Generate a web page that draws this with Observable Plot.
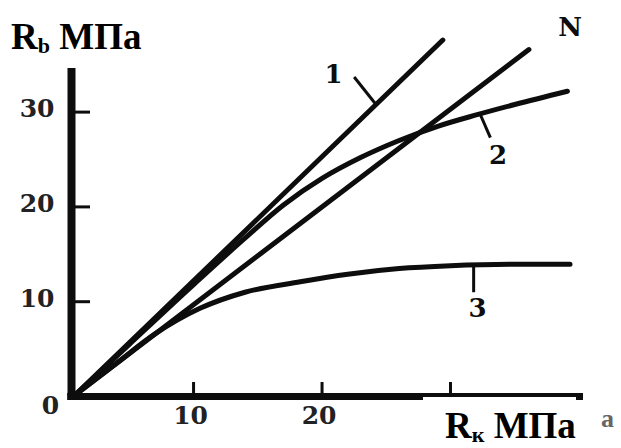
<!DOCTYPE html>
<html>
<head>
<meta charset="utf-8">
<script src="https://cdn.jsdelivr.net/npm/d3@7"></script>
<script src="https://cdn.jsdelivr.net/npm/@observablehq/plot@0.6"></script>
<style>
  html, body { margin: 0; padding: 0; background: #fff; }
  #wrap { position: relative; width: 621px; height: 448px; overflow: hidden; }
  .ttl { position: absolute; font-family: "Liberation Serif", "DejaVu Serif", serif; font-weight: bold;
         font-size: 37px; line-height: 37px; color: #000; white-space: nowrap; }
  .ttl sub { font-size: 22px; vertical-align: -4px; line-height: 0; }
  #xttl { background: #fff; padding: 0 0 0 22px; }
  #corner { position: absolute; left: 601px; top: 404px; font-family: "Liberation Serif", serif;
            font-weight: bold; font-size: 26px; color: #666; }
</style>
</head>
<body>
<div id="wrap">
  <div id="chart"></div>
  <div class="ttl" style="left:11px; top:18px;">R<sub>b</sub> МПа</div>
  <div class="ttl" id="xttl" style="left:423px; top:397px; height:51px; padding-top:10px; box-sizing:border-box;">R<sub>к</sub> МПа</div>
  <div id="corner">а</div>
</div>
<script>
// Compressive strength of concrete R_b against cube strength R_k (MPa)

// straight line 1
const line1X = [0.9, 29.4];
const line1Y = [0.3, 37.6];
// straight line N
const lineNX = [0.9, 36.1];
const lineNY = [0.3, 36.6];
// curve 2
const curve2X = [0.9, 5, 10, 14, 17, 20, 23, 26, 29, 32, 35, 39.1];
const curve2Y = [0.3, 5.5, 11.8, 16.7, 20.2, 23.0, 25.2, 27.0, 28.5, 29.7, 30.8, 32.2];
// curve 3
const curve3X = [0.9, 4, 7, 10.5, 14, 18.3, 22, 26, 30, 35, 39.3];
const curve3Y = [0.3, 3.5, 6.6, 9.3, 11.0, 12.1, 12.9, 13.5, 13.8, 13.95, 13.95];

// axis ticks and labels
const xTicks = [10, 20, 30];
const xTickLabels = ["10", "20"];
const yTicks = [10, 20, 30];
const yTickLabels = ["10", "20", "30"];
const originLabel = "0";

// curve labels with their leader strokes
const curveNames = ["1", "2", "N", "3"];
const nameX = [20.9, 33.7, 39.3, 32.1];
const nameY = [34.0, 25.4, 38.9, 9.3];
const leaderX1 = [22.5, 32.3, 31.8];
const leaderY1 = [33.7, 29.8, 13.9];
const leaderX2 = [24.2, 33.1, 31.8];
const leaderY2 = [30.8, 27.3, 11.0];

// axis extents
const xMin = 0.5, xMax = 40.35;
const yMin = 0, yMax = 34.6;

const toPts = (xs, ys) => xs.map((x, i) => ({x, y: ys[i]}));
const series = [
  toPts(line1X, line1Y),
  toPts(lineNX, lineNY),
  toPts(curve2X, curve2Y),
  toPts(curve3X, curve3Y)
];
const names = curveNames.map((t, i) => ({t, x: nameX[i], y: nameY[i]}));
const leaders = leaderX1.map((x1, i) => ({x1, y1: leaderY1[i], x2: leaderX2[i], y2: leaderY2[i]}));

const ink = "#0d0d0d";
const serif = "DejaVu Serif, Liberation Serif, serif";

const chart = Plot.plot({
  width: 621,
  height: 448,
  marginLeft: 71,
  marginRight: 38,
  marginTop: 68,
  marginBottom: 52,
  style: {background: "#fff"},
  x: {domain: [xMin, xMax], axis: null},
  y: {domain: [yMin, yMax], axis: null},
  marks: [
    // inward tick marks
    Plot.axisY({ticks: yTicks, tickSize: -19, tickFormat: () => "", label: null, stroke: ink, strokeWidth: 3}),
    Plot.axisX({ticks: xTicks, tickSize: -14, tickFormat: () => "", label: null, stroke: ink, strokeWidth: 3}),
    // axis lines
    Plot.ruleX([xMin], {y1: yMin, y2: yMax, stroke: ink, strokeWidth: 8}),
    Plot.ruleY([yMin], {x1: xMin - 0.3, x2: xMax, stroke: ink, strokeWidth: 7}),
    // curves
    ...series.map(d => Plot.line(d, {x: "x", y: "y", curve: "monotone-x", stroke: ink, strokeWidth: 5, strokeLinecap: "round"})),
    // leaders
    Plot.link(leaders, {x1: "x1", y1: "y1", x2: "x2", y2: "y2", stroke: ink, strokeWidth: 3}),
    // curve names
    Plot.text(names, {x: "x", y: "y", text: "t", fontSize: 26, fontWeight: "bold", fontFamily: serif, fill: ink}),
    // tick labels
    Plot.text(yTicks, {x: xMin, y: d => d, text: (d, i) => yTickLabels[i], textAnchor: "end", dx: -17, dy: -3,
      fontSize: 25, fontWeight: "bold", fontFamily: serif, fill: "#222"}),
    Plot.text(xTickLabels, {x: (d, i) => xTicks[i], y: yMin, text: d => d, dy: 19, dx: -3,
      fontSize: 25, fontWeight: "bold", fontFamily: serif, fill: "#222"}),
    Plot.text([originLabel], {x: xMin, y: yMin, text: d => d, dx: -21, dy: 9,
      fontSize: 25, fontWeight: "bold", fontFamily: serif, fill: "#222"})
  ]
});
document.getElementById("chart").appendChild(chart);
</script>
</body>
</html>
